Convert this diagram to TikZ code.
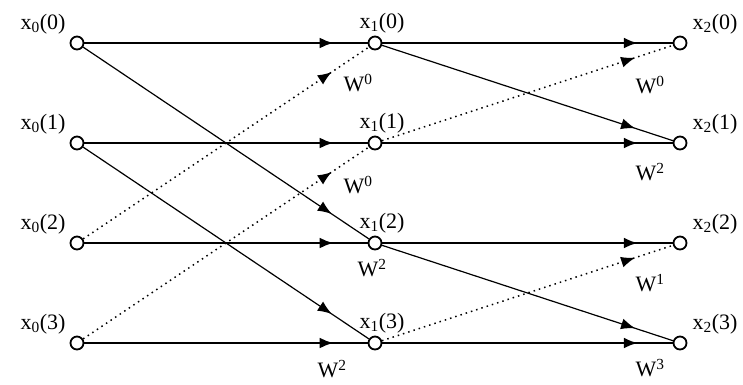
\documentclass[tikz,border=0pt]{standalone}
\usepackage{fontspec}
\setmainfont{Liberation Serif}
\usetikzlibrary{arrows.meta,calc,decorations.markings}
\tikzset{
  >=Latex,
  every node/.style={font=\fontsize{22}{26}\selectfont,inner sep=0pt},
  pnode/.style={circle,draw,line width=1.8pt,fill=white,minimum size=13pt,inner sep=0pt},
  midarr/.style={postaction={decorate},decoration={markings,mark=at position #1 with {\arrow{Latex[length=14pt,width=11pt]}}}},
  midarr/.default=0.88,
  flow/.style={line width=2.6pt,midarr},
  cross/.style={line width=1.2pt,midarr=0.87},
  twid/.style={line width=1.5pt,dash pattern=on 1.5pt off 4pt,midarr=0.87},
  wlab/.style={font=\fontsize{22}{26}\selectfont}
}

\begin{document}
\begin{tikzpicture}[x=1pt,y=-1pt]
  \path[use as bounding box] (0,0) rectangle (743,384);

  % butterfly points, three stages
  \foreach \k/\yy in {0/43,1/143,2/243,3/343}{
    \node[pnode] (a\k) at (77,\yy) {};
    \node[pnode] (b\k) at (375,\yy) {};
    \node[pnode] (c\k) at (680,\yy) {};
    \node (la\k) at ($(a\k)+(-34,-19)$) {x\textsubscript{0}(\k)};
    \node (lb\k) at ($(b\k)+(7,-20)$) {x\textsubscript{1}(\k)};
    \node (lc\k) at ($(c\k)+(35,-19)$) {x\textsubscript{2}(\k)};
  }

  \foreach \k in {0,...,3}{
    \draw[flow] (a\k) -- (b\k);
    \draw[flow] (b\k) -- (c\k);
  }

  % first stage
  \draw[cross] (a0) -- (b2);
  \draw[cross] (a1) -- (b3);
  \draw[twid] (a2) -- (b0);
  \draw[twid] (a3) -- (b1);

  % second stage
  \draw[cross] (b0) -- (c1);
  \draw[cross] (b2) -- (c3);
  \draw[twid] (b1) -- (c0);
  \draw[twid] (b3) -- (c2);

  \node[wlab] (wb0) at ($(b0)+(-17,40)$) {W\textsuperscript{0}};
  \node[wlab] (wb1) at ($(b1)+(-17,42)$) {W\textsuperscript{0}};
  \node[wlab] (wb2) at ($(b2)+(-3,25)$) {W\textsuperscript{2}};
  \node[wlab] (wb3) at ($(b3)+(-43,26)$) {W\textsuperscript{2}};
  \node[wlab] (wc0) at ($(c0)+(-30,42)$) {W\textsuperscript{0}};
  \node[wlab] (wc1) at ($(c1)+(-30,29)$) {W\textsuperscript{2}};
  \node[wlab] (wc2) at ($(c2)+(-30,40)$) {W\textsuperscript{1}};
  \node[wlab] (wc3) at ($(c3)+(-30,25)$) {W\textsuperscript{3}};
\end{tikzpicture}
\end{document}
